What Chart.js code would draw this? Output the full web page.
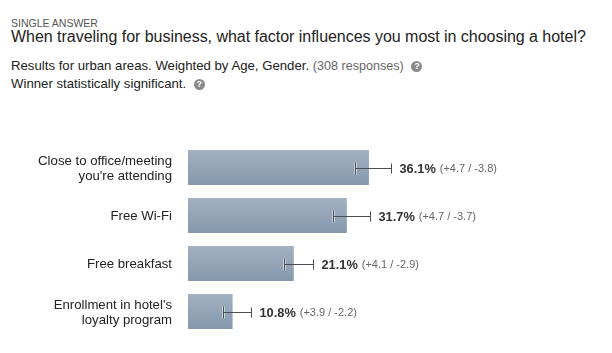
<!DOCTYPE html>
<html lang="en">
<head>
<meta charset="UTF-8" />
<title>Hotel factors</title>
<script src="https://cdn.jsdelivr.net/npm/chart.js"></script>
<style>
  html, body { margin: 0; background: #fff; }
  body { width: 612px; height: 353px; position: relative; overflow: hidden; font-family: "Liberation Sans", Arial, sans-serif; }
  #chart { position: absolute; left: 0; top: 0; }
  .txt { position: absolute; left: 11px; white-space: nowrap; color: #222; }
  .kicker { top: 17px; font-size: 10.5px; color: #555; }
  .title { top: 28px; font-size: 16px; letter-spacing: -0.03px; }
  .meta { font-size: 13.2px; }
  .meta .n { color: #666; font-size: 12.6px; }
  .help { display: inline-block; width: 11px; height: 11px; border-radius: 50%; background: #8a8a8a; color: #fff; font-size: 9px; line-height: 11px; text-align: center; font-weight: bold; margin-left: 4px; vertical-align: 1px; }
</style>
</head>
<body>
  <div class="txt kicker">SINGLE ANSWER</div>
  <div class="txt title">When traveling for business, what factor influences you most in choosing a hotel?</div>
  <div class="txt meta" style="top:58px">Results for urban areas. Weighted by Age, Gender. <span class="n">(308 responses)</span> <span class="help">?</span></div>
  <div class="txt meta" style="top:76px">Winner statistically significant. <span class="help">?</span></div>
  <canvas id="chart" width="612" height="353"></canvas>

  <script>
    const categories = [["Close to office/meeting", "you're attending"], "Free Wi-Fi", "Free breakfast", ["Enrollment in hotel's", "loyalty program"]];
    // bar lengths as drawn in the picture (the last bar is drawn shorter than its 10.8% label)
    const barValues = [36.1, 31.7, 21.1, 8.9];
    const whiskerLow = [33.3, 28.9, 19.2, 7.05];
    const whiskerHigh = [40.45, 36.4, 24.9, 12.6];
    const valueLabels = ["36.1%", "31.7%", "21.1%", "10.8%"];
    const marginLabels = ["(+4.7 / -3.8)", "(+4.7 / -3.7)", "(+4.1 / -2.9)", "(+3.9 / -2.2)"];

    const errorBars = {
      id: "errorBars",
      afterDatasetsDraw(chart) {
        const { ctx } = chart;
        const x = chart.scales.x, y = chart.scales.y;
        ctx.save();
        barValues.forEach((v, i) => {
          const cy = Math.round(y.getPixelForValue(i)) + 0.5;
          const x0 = Math.round(x.getPixelForValue(whiskerLow[i])) + 0.5;
          const x1 = Math.round(x.getPixelForValue(whiskerHigh[i])) + 0.5;
          // light halo on the part over the bar
          ctx.strokeStyle = "#c9d3dc";
          ctx.lineWidth = 3;
          ctx.beginPath();
          ctx.moveTo(x0, cy - 6); ctx.lineTo(x0, cy + 6);
          ctx.stroke();
          ctx.strokeStyle = "#4a4f55";
          ctx.lineWidth = 1;
          ctx.beginPath();
          ctx.moveTo(x0, cy - 6); ctx.lineTo(x0, cy + 6);
          ctx.moveTo(x0, cy); ctx.lineTo(x1, cy);
          ctx.moveTo(x1, cy - 5); ctx.lineTo(x1, cy + 5);
          ctx.stroke();

          ctx.textBaseline = "middle";
          ctx.textAlign = "left";
          ctx.font = "bold 12.8px 'Liberation Sans', Arial, sans-serif";
          ctx.fillStyle = "#333";
          const tx = x1 + 8;
          ctx.fillText(valueLabels[i], tx, cy + 0.5);
          const w = ctx.measureText(valueLabels[i]).width;
          ctx.font = "11px 'Liberation Sans', Arial, sans-serif";
          ctx.fillStyle = "#666";
          ctx.fillText(marginLabels[i], tx + w + 4, cy + 0.5);
        });
        ctx.restore();
      }
    };

    function barFill(context) {
      const { chart, dataIndex } = context;
      const cy = chart.scales.y ? chart.scales.y.getPixelForValue(dataIndex) : NaN;
      if (!Number.isFinite(cy)) return "#93a5b7";
      const g = chart.ctx.createLinearGradient(0, cy - 17.5, 0, cy + 17.5);
      g.addColorStop(0, "#a1b1c1");
      g.addColorStop(1, "#8598ac");
      return g;
    }

    new Chart(document.getElementById("chart"), {
      type: "bar",
      plugins: [errorBars],
      data: {
        labels: categories,
        datasets: [{ data: barValues, backgroundColor: barFill, borderWidth: 0, categoryPercentage: 1, barPercentage: 35 / 48 }]
      },
      options: {
        indexAxis: "y",
        responsive: false,
        animation: false,
        layout: { padding: { top: 143.5, bottom: 17.5, right: 0, left: 0 } },
        plugins: { legend: { display: false }, tooltip: { enabled: false } },
        scales: {
          x: { display: false, min: 0, max: 84.6, grid: { display: false } },
          y: {
            afterFit(scale) {
              scale.width = 188;
              scale.paddingTop = 0;
              scale.paddingBottom = 0;
            },
            grid: { display: false },
            border: { display: false },
            ticks: { color: "#222", padding: 8, labelOffset: 1, font: { size: 13.2, family: "'Liberation Sans', Arial, sans-serif", lineHeight: 1.15 } }
          }
        }
      }
    });
  </script>
</body>
</html>
